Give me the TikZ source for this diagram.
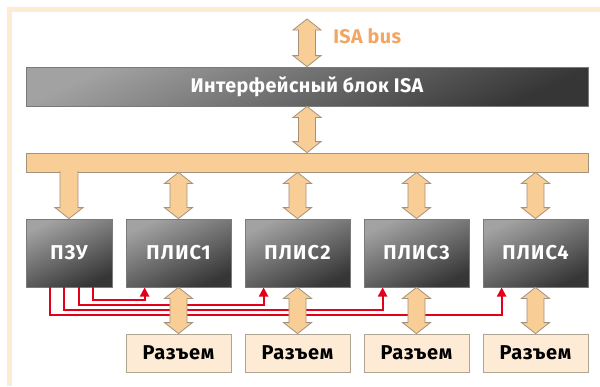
\documentclass[tikz,border=0pt]{standalone}
\usepackage{fontspec}
\setmainfont{Fira Sans}
\usetikzlibrary{arrows.meta,calc}
\definecolor{framec}{HTML}{FDEBD3}
\definecolor{arrowc}{HTML}{F8CD96}
\definecolor{arrowd}{HTML}{A3927E}
\definecolor{connc}{HTML}{FDEBD5}
\definecolor{connd}{HTML}{B0A492}
\definecolor{redc}{HTML}{E2001A}
\definecolor{busc}{HTML}{F2A663}
\definecolor{darkA}{HTML}{A2A2A2}
\definecolor{darkB}{HTML}{363636}
\definecolor{darkd}{HTML}{7A7A7A}
\newcommand{\VDArrow}[2]{%
  \path[barrow] let \p1=(#1), \p2=(#2) in
    (\x1,\y1) -- (\x1+10.5pt,\y1-8.25pt) -- (\x1+6.4pt,\y1-8.25pt)
    -- (\x1+6.4pt,\y2+8.25pt) -- (\x1+10.5pt,\y2+8.25pt) -- (\x1,\y2)
    -- (\x1-10.5pt,\y2+8.25pt) -- (\x1-6.4pt,\y2+8.25pt)
    -- (\x1-6.4pt,\y1-8.25pt) -- (\x1-10.5pt,\y1-8.25pt) -- cycle;}
\begin{document}
\begin{tikzpicture}[x=0.75pt,y=-0.75pt,
  darkbox/.style={draw=darkd, line width=0.6pt, top color=darkA, bottom color=darkB,
    shading angle=25, text=white, inner sep=0pt,
    font=\bfseries\fontsize{15}{17}\selectfont\addfontfeatures{LetterSpace=6}},
  connbox/.style={draw=connd, line width=0.6pt, fill=connc, inner sep=0pt,
    minimum width=78.75pt, minimum height=28.5pt,
    font=\bfseries\fontsize{15}{17}\selectfont\addfontfeatures{LetterSpace=3.5}},
  busbar/.style={draw=arrowd, line width=0.6pt, fill=arrowc, inner sep=0pt},
  barrow/.style={draw=arrowd, line width=0.6pt, fill=arrowc},
  redline/.style={draw=redc, line width=1.4pt, -{Triangle[width=7pt,length=7pt]}},
  frameline/.style={draw=framec, line width=3.75pt}]
\useasboundingbox (0,0) rectangle (600,386);
% frame
\draw[frameline] (600,9.5) -- (9.5,9.5) -- (9.5,386);
% nodes
\node[darkbox, minimum width=421.5pt, minimum height=29.25pt,
  font=\bfseries\fontsize{14.8}{17}\selectfont\addfontfeatures{LetterSpace=2}] (isa) at (307,86.5) {Интерфейсный блок ISA};
\node[busbar, minimum width=421.5pt, minimum height=14.25pt] (bar) at (307,162.5) {};
\node[darkbox, minimum width=64.5pt, minimum height=51pt] (pzu) at (69,253) {ПЗУ};
\node[darkbox, minimum width=78.75pt, minimum height=51pt] (p1) at (178.5,253) {ПЛИС1};
\node[darkbox, minimum width=78.75pt, minimum height=51pt] (p2) at (297.5,253) {ПЛИС2};
\node[darkbox, minimum width=78.75pt, minimum height=51pt] (p3) at (416.5,253) {ПЛИС3};
\node[darkbox, minimum width=78.75pt, minimum height=51pt] (p4) at (535.5,253) {ПЛИС4};
\node[connbox] (c1) at (178.5,353) {Разъем};
\node[connbox] (c2) at (297.5,353) {Разъем};
\node[connbox] (c3) at (416.5,353) {Разъем};
\node[connbox] (c4) at (535.5,353) {Разъем};
\coordinate (bustop) at (307,19);
\node[anchor=base west, inner sep=0pt, text=busc,
  font=\bfseries\fontsize{14.8}{17}\selectfont\addfontfeatures{LetterSpace=2}] (buslabel) at (333,43) {ISA bus};
% red lines
\draw[redline] ($(pzu.south west)+(24,0)$) |- ($(p4.south west)+(19,28)$) -- ($(p4.south west)+(19,0)$);
\draw[redline] ($(pzu.south west)+(38,0)$) |- ($(p3.south west)+(19,23)$) -- ($(p3.south west)+(19,0)$);
\draw[redline] ($(pzu.south west)+(53,0)$) |- ($(p2.south west)+(19,18)$) -- ($(p2.south west)+(19,0)$);
\draw[redline] ($(pzu.south west)+(67,0)$) |- ($(p1.south west)+(19,13)$) -- ($(p1.south west)+(19,0)$);
% block arrows
\VDArrow{bustop}{isa.north}
\VDArrow{isa.south}{bar.north}
\VDArrow{bar.south -| p1.north}{p1.north}
\VDArrow{bar.south -| p2.north}{p2.north}
\VDArrow{bar.south -| p3.north}{p3.north}
\VDArrow{bar.south -| p4.north}{p4.north}
\VDArrow{p1.south}{c1.north}
\VDArrow{p2.south}{c2.north}
\VDArrow{p3.south}{c3.north}
\VDArrow{p4.south}{c4.north}
\path[barrow] let \p1=(bar.south -| pzu.north), \p2=(pzu.north) in
  (\x1-6.75pt,\y1+1pt) -- (\x1-6.75pt,\y2+8.25pt) -- (\x1-10.5pt,\y2+8.25pt) -- (\x1,\y2)
  -- (\x1+10.5pt,\y2+8.25pt) -- (\x1+6.75pt,\y2+8.25pt) -- (\x1+6.75pt,\y1+1pt);
\end{tikzpicture}
\end{document}
